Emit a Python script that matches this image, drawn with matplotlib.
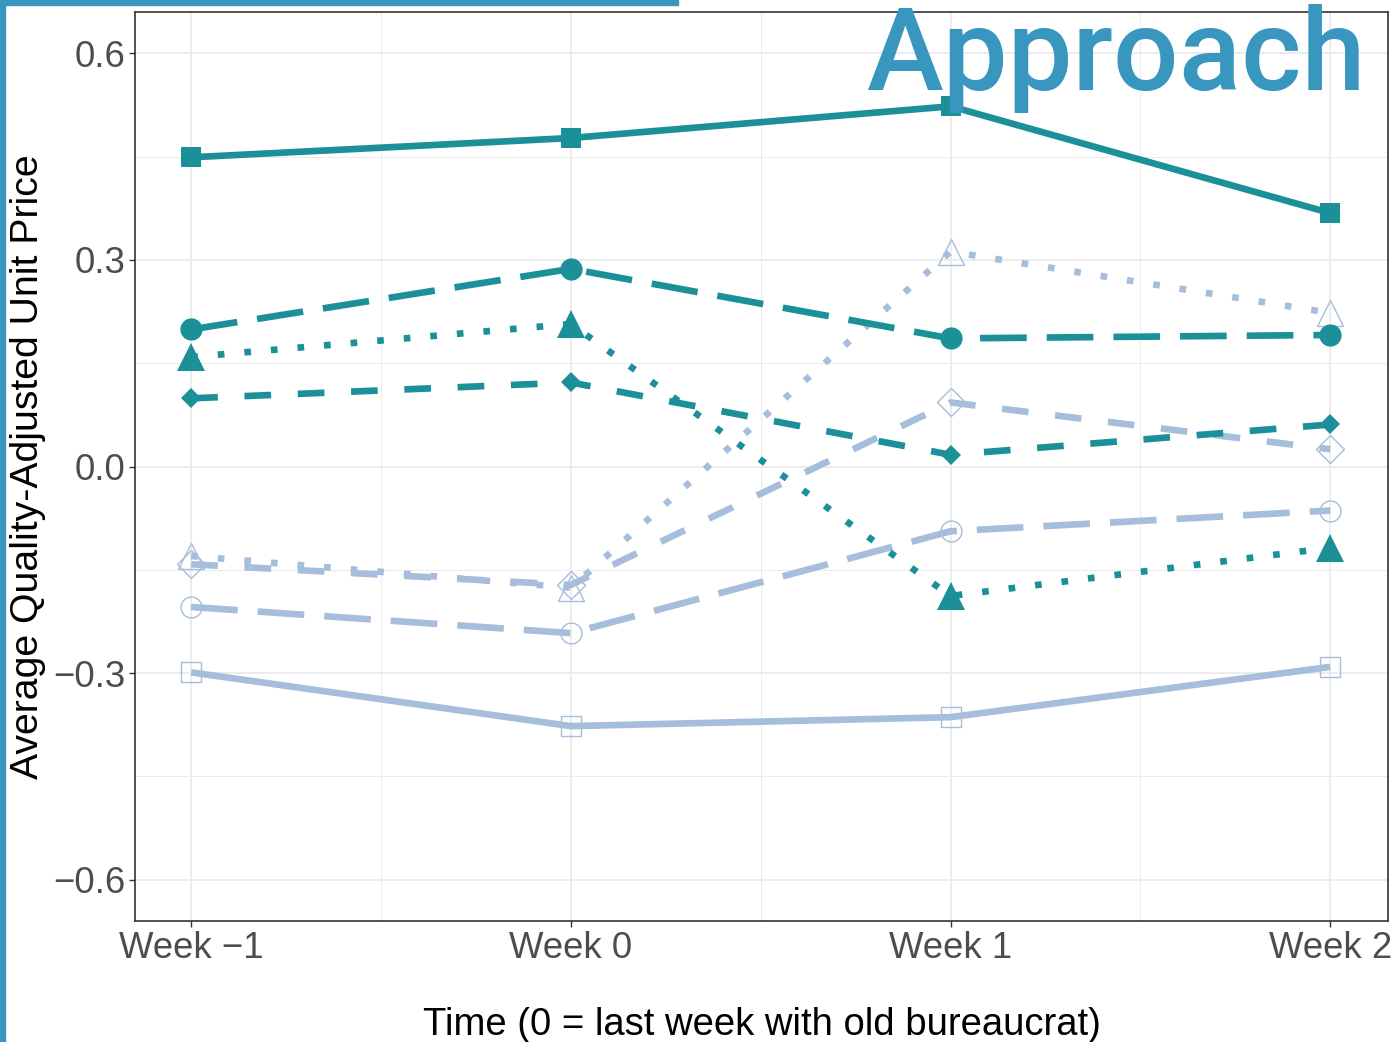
import matplotlib.pyplot as plt
from matplotlib.ticker import FixedLocator

# x positions and labels
week_pos = [-1, 0, 1, 2]
week_labels = ["Week \u22121", "Week 0", "Week 1", "Week 2"]

# teal group (filled markers)
teal_square = [0.449, 0.477, 0.523, 0.368]
teal_circle = [0.199, 0.287, 0.186, 0.191]
teal_triangle = [0.159, 0.207, -0.188, -0.118]
teal_diamond = [0.099, 0.122, 0.017, 0.061]

# light blue group (open markers)
light_square = [-0.299, -0.377, -0.364, -0.291]
light_circle = [-0.204, -0.242, -0.094, -0.064]
light_triangle = [-0.130, -0.176, 0.312, 0.223]
light_diamond = [-0.142, -0.172, 0.093, 0.025]

y_ticks = [-0.6, -0.3, 0.0, 0.3, 0.6]
y_tick_labels = ["\u22120.6", "\u22120.3", "0.0", "0.3", "0.6"]

TEAL = "#1c9099"
LIGHT = "#a6bddb"
ACCENT = "#3896bf"

plt.rcParams['font.family'] = ['Liberation Sans', 'DejaVu Sans']

fig = plt.figure(figsize=(13.96, 10.42), dpi=100)
ax = fig.add_axes([135 / 1396, 1 - 921 / 1042, (1388 - 135) / 1396, (921 - 12) / 1042])

lw = 4.8
styles = {
    "solid": "-",
    "longdash": (0, (7, 3)),
    "dashed": (0, (4, 4)),
    "dotted": (0, (1, 3)),
}

# light series
ax.plot(week_pos, light_square, color=LIGHT, lw=lw, ls=styles["solid"], marker='s', ms=15,
        mfc='none', mec=LIGHT, mew=1.0, solid_capstyle='butt', zorder=3)
ax.plot(week_pos, light_circle, color=LIGHT, lw=lw, ls=styles["longdash"], marker='o', ms=15,
        mfc='none', mec=LIGHT, mew=1.0, dash_capstyle='butt', zorder=3)
ax.plot(week_pos, light_triangle, color=LIGHT, lw=lw, ls=styles["dotted"], marker='^', ms=19,
        mfc='none', mec=LIGHT, mew=1.0, dash_capstyle='butt', zorder=3)
ax.plot(week_pos, light_diamond, color=LIGHT, lw=lw, ls=styles["dashed"], marker='D', ms=14,
        mfc='none', mec=LIGHT, mew=1.0, dash_capstyle='butt', zorder=3)

# teal series
ax.plot(week_pos, teal_square, color=TEAL, lw=lw, ls=styles["solid"], marker='s', ms=15,
        mfc=TEAL, mec=TEAL, mew=0, solid_capstyle='butt', zorder=4)
ax.plot(week_pos, teal_circle, color=TEAL, lw=lw, ls=styles["longdash"], marker='o', ms=16,
        mfc=TEAL, mec=TEAL, mew=0, dash_capstyle='butt', zorder=4)
ax.plot(week_pos, teal_triangle, color=TEAL, lw=lw, ls=styles["dotted"], marker='^', ms=20,
        mfc=TEAL, mec=TEAL, mew=0, dash_capstyle='butt', zorder=4)
ax.plot(week_pos, teal_diamond, color=TEAL, lw=lw, ls=styles["dashed"], marker='D', ms=10.5,
        mfc=TEAL, mec=TEAL, mew=0, dash_capstyle='butt', zorder=4)

ax.set_xlim(-1.148, 2.152)
ax.set_ylim(-0.66, 0.66)
ax.set_xticks(week_pos)
ax.set_xticklabels(week_labels)
ax.set_yticks(y_ticks)
ax.set_yticklabels(y_tick_labels)
ax.xaxis.set_minor_locator(FixedLocator([-0.5, 0.5, 1.5]))
ax.yaxis.set_minor_locator(FixedLocator([-0.45, -0.15, 0.15, 0.45]))

ax.grid(True, which='major', color='#ebebeb', lw=1.3, zorder=0)
ax.grid(True, which='minor', color='#ebebeb', lw=0.7, zorder=0)
ax.set_axisbelow(True)

for s in ax.spines.values():
    s.set_color('#333333')
    s.set_linewidth(1.2)

ax.tick_params(which='major', length=4, width=1.0, color='#333333', labelsize=26.3,
               labelcolor='#4d4d4d', pad=3)
ax.tick_params(which='minor', length=0)

ax.set_xlabel("Time (0 = last week with old bureaucrat)", fontsize=27.5, color='black', labelpad=30)
ax.set_ylabel("Average Quality-Adjusted Unit Price", fontsize=28.3, color='black', labelpad=5)

# slide decorations
fig.patches.append(plt.Rectangle((0, 1 - 5 / 1042), 678 / 1396, 5 / 1042, transform=fig.transFigure,
                                 color=ACCENT, zorder=10))
fig.patches.append(plt.Rectangle((0, 0), 5 / 1396, 1, transform=fig.transFigure,
                                 color=ACCENT, zorder=10))
fig.text(1366 / 1396, 1 - 90 / 1042, "Approach", fontsize=83, color=ACCENT, family='Roboto',
         fontweight='medium', ha='right', va='baseline', zorder=20)

fig.savefig("out.png", dpi=100)
